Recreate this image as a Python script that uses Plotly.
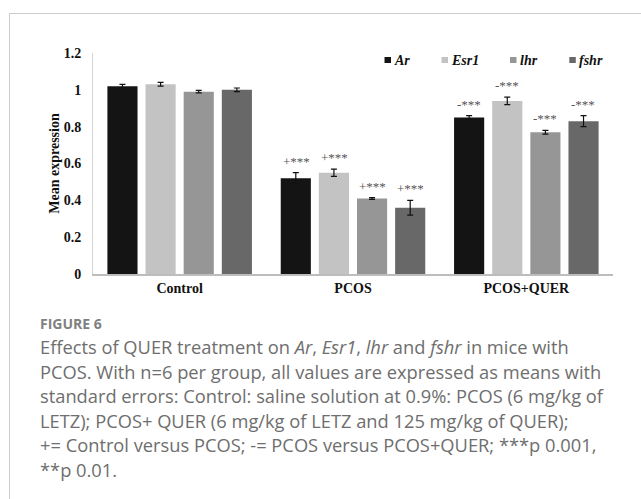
import plotly.graph_objects as go

groups = ["Control", "PCOS", "PCOS+QUER"]
genes = ["Ar", "Esr1", "lhr", "fshr"]
colors = ["#141414", "#c3c3c3", "#969696", "#686868"]

ar_vals = [1.02, 0.52, 0.85]
ar_err = [0.01, 0.03, 0.01]
esr1_vals = [1.03, 0.55, 0.94]
esr1_err = [0.01, 0.02, 0.02]
lhr_vals = [0.99, 0.41, 0.77]
lhr_err = [0.007, 0.005, 0.01]
fshr_vals = [1.00, 0.36, 0.83]
fshr_err = [0.01, 0.04, 0.03]

sig_labels = {
    "PCOS": ["+***", "+***", "+***", "+***"],
    "PCOS+QUER": ["-***", "-***", "-***", "-***"],
}

y_ticks = [0, 0.2, 0.4, 0.6, 0.8, 1, 1.2]

caption_title = "FIGURE 6"
caption_lines = [
    "Effects of QUER treatment on <i>Ar</i>, <i>Esr1</i>, <i>lhr</i> and <i>fshr</i> in mice with",
    "PCOS. With n=6 per group, all values are expressed as means with",
    "standard errors: Control: saline solution at 0.9%: PCOS (6 mg/kg of",
    "LETZ); PCOS+ QUER (6 mg/kg of LETZ and 125 mg/kg of QUER);",
    "+= Control versus PCOS; -= PCOS versus PCOS+QUER; ***p 0.001,",
    "**p 0.01.",
]

W, H = 641, 499
L, R, T, B = 93, 28, 53, 225
PW, PH = W - L - R, H - T - B


def px(x):
    return (x - L) / PW


def py(y):
    return 1 - (y - T) / PH


vals = [ar_vals, esr1_vals, lhr_vals, fshr_vals]
errs = [ar_err, esr1_err, lhr_err, fshr_err]

fig = go.Figure()
for g, c, v, e in zip(genes, colors, vals, errs):
    fig.add_trace(go.Bar(
        x=groups, y=v, name=g, marker=dict(color=c, line=dict(width=0)),
        error_y=dict(type="data", array=e, color="#111111", thickness=1.2, width=3),
    ))

serif = "Liberation Serif, Times New Roman, serif"
sans = "Open Sans, Lato, sans-serif"

annotations = []

# outer frame: an empty bordered box whose right/bottom sides fall outside the page
annotations.append(dict(x=px(9), y=py(12.5), xref="paper", yref="paper",
                        xanchor="left", yanchor="top", showarrow=False,
                        text=" ", width=700, height=560, borderpad=0,
                        bordercolor="#cccccc", borderwidth=1,
                        bgcolor="rgba(0,0,0,0)"))

offsets = [-57, -19, 19, 57]
for grp, labels in sig_labels.items():
    gi = groups.index(grp)
    for k in range(4):
        top = vals[k][gi] + errs[k][gi]
        annotations.append(dict(
            x=grp, y=top, xref="x", yref="y", xshift=offsets[k], yshift=2,
            yanchor="bottom", xanchor="center", showarrow=False,
            text=labels[k],
            font=dict(family=serif, size=13, color="#555555"),
        ))

leg_sq_x = [384.5, 441.5, 510, 569.3]
leg_tx_x = [392, 449, 517.5, 576.5]
shapes = []
for g, c, sx, tx in zip(genes, colors, leg_sq_x, leg_tx_x):
    shapes.append(dict(type="rect", xref="paper", yref="paper",
                       x0=px(sx), x1=px(sx + 6.5), y0=py(63), y1=py(57),
                       fillcolor=c, line=dict(width=0)))
    annotations.append(dict(x=px(tx), y=py(60), xref="paper", yref="paper",
                            xanchor="left", yanchor="middle", showarrow=False,
                            text=f"<b><i>{g}</i></b>",
                            font=dict(family=serif, size=14, color="#111111")))

annotations.append(dict(x=px(38), y=py(323.5), xref="paper", yref="paper",
                        xanchor="left", yanchor="middle", showarrow=False,
                        text=f"<b>{caption_title}</b>",
                        font=dict(family=sans, size=14, color="#808080")))
line_y = [346.5, 371, 395.5, 420, 444.5, 469]
for ln, yy in zip(caption_lines, line_y):
    annotations.append(dict(x=px(38), y=py(yy), xref="paper", yref="paper",
                            xanchor="left", yanchor="middle", showarrow=False,
                            text=ln, font=dict(family=sans, size=18.3, color="#6e6e6e")))

fig.update_layout(
    width=W, height=H, margin=dict(l=L, r=R, t=T, b=B, autoexpand=False),
    barmode="group", bargap=0.12, bargroupgap=0.21,
    plot_bgcolor="white", paper_bgcolor="white", showlegend=False,
    annotations=annotations, shapes=shapes,
    font=dict(family=serif, size=14, color="#111111"),
)
fig.update_xaxes(showline=True, linecolor="#bdbdbd", linewidth=1.5, showgrid=False,
                 ticks="", tickfont=dict(family=serif, size=14, color="#111111", weight="bold"))
fig.update_yaxes(range=[0, 1.2], tickvals=y_ticks, ticktext=[str(v) for v in y_ticks],
                 showline=True, linecolor="#d3d3d3", linewidth=1, showgrid=False,
                 zeroline=False, ticks="", ticklabelstandoff=8,
                 tickfont=dict(family=serif, size=14, color="#111111", weight="bold"),
                 title=dict(text="<b>Mean expression</b>", standoff=0,
                            font=dict(family=serif, size=14, color="#111111")))

fig.write_html("out.html", config={"displayModeBar": False},
               post_script="document.body.style.margin='0';document.body.style.overflow='hidden';")
